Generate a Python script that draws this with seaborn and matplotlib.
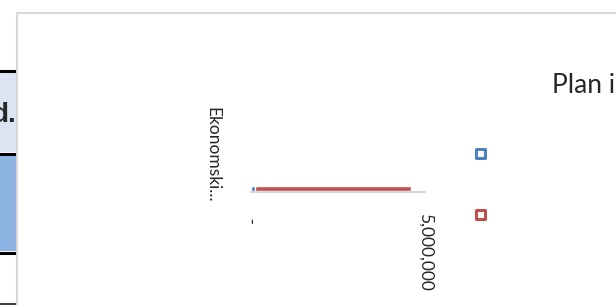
import numpy as np
import pandas as pd
import matplotlib
matplotlib.use('Agg')
import matplotlib.pyplot as plt
import matplotlib.transforms as mtransforms
from matplotlib.patches import Rectangle
import seaborn as sns

# data
categories = ['Ekonomski...']
plan_values = [120000]        # blue series
izvrsenje_values = [4480000]  # red series, stacked on blue
x_ticks = [0, 5000000]
x_tick_labels = [' -', '5,000,000']

BLUE = '#4f81bd'
RED = '#c0504d'
W, H = 616, 305

sns.set_style('white')
plt.rcParams['font.family'] = ['Lato', 'DejaVu Sans']


def fx(px):
    return px / W


def fy(py):
    return 1 - py / H


fig = plt.figure(figsize=(W / 100, H / 100), dpi=100)

# spreadsheet fragment on the left
fig.add_artist(Rectangle((0, fy(152)), fx(16), fy(72) - fy(152), transform=fig.transFigure,
                         facecolor='#dbe5f1', edgecolor='none', zorder=-3))
fig.add_artist(Rectangle((0, fy(251)), fx(16), fy(155) - fy(251), transform=fig.transFigure,
                         facecolor='#8db3e2', edgecolor='none', zorder=-3))
for yy, c in [(70.5, 'black'), (153.5, 'black'), (252.5, 'black'), (303.5, '#404040')]:
    fig.add_artist(plt.Line2D([0, fx(16)], [fy(yy), fy(yy)], transform=fig.transFigure,
                              color=c, lw=2.2, zorder=-2))
fig.text(fx(17), fy(122), 'd.', ha='right', va='baseline', fontsize=20,
         fontweight='bold', family=['Liberation Sans Narrow', 'Liberation Sans', 'DejaVu Sans'],
         zorder=-1)

# chart frame
fig.add_artist(Rectangle((fx(17), -0.5), 2, fy(13) + 0.5, transform=fig.transFigure,
                         facecolor='white', edgecolor='#d9d9d9', lw=1.5, zorder=-0.5))

# plot area
ax = fig.add_axes([fx(251), fy(192), fx(425) - fx(251), fy(172) - fy(192)])
ax.patch.set_alpha(0)

totals = [a + b for a, b in zip(plan_values, izvrsenje_values)]
df_total = pd.DataFrame({'kategorija': categories, 'iznos': totals})
df_plan = pd.DataFrame({'kategorija': categories, 'iznos': plan_values})
sns.barplot(data=df_total, x='iznos', y='kategorija', orient='h', color=RED,
            saturation=1, width=0.25, ax=ax)
sns.barplot(data=df_plan, x='iznos', y='kategorija', orient='h', color=BLUE,
            saturation=1, width=0.25, ax=ax)

ax.set_xlim(0, 5000000)
ax.set_ylim(0.175, -0.825)
ax.set_xlabel('')
ax.set_ylabel('')
for s in ['top', 'right', 'left']:
    ax.spines[s].set_visible(False)
ax.spines['bottom'].set_color('#d9d9d9')
ax.spines['bottom'].set_linewidth(1.5)
ax.set_xticks(x_ticks)
ax.set_xticklabels(x_tick_labels, rotation=270, ha='center', va='top', fontsize=12.5)
ax.tick_params(axis='x', length=0, pad=15)
ax.set_yticks([])

# category label, rotated like the Excel chart
off = mtransforms.offset_copy(ax.get_yaxis_transform(), fig=fig, x=-39, y=-14.5, units='dots')
ax.text(0, 0, categories[0], transform=off, rotation=270, rotation_mode='anchor',
        ha='right', va='center', fontsize=12.5)

# legend keys (labels not visible in the crop)
for cy, c in [(153.5, BLUE), (214.5, RED)]:
    fig.add_artist(Rectangle((fx(475.5), fy(cy + 4.5)), fx(9), fy(cy - 4.5) - fy(cy + 4.5),
                             transform=fig.transFigure, facecolor='white', edgecolor=c,
                             lw=2.2, joinstyle='round'))

# title (cut at the right edge)
fig.text(fx(552), fy(93), 'Plan i', ha='left', va='baseline', fontsize=19)

fig.savefig('out.png', dpi=100)
